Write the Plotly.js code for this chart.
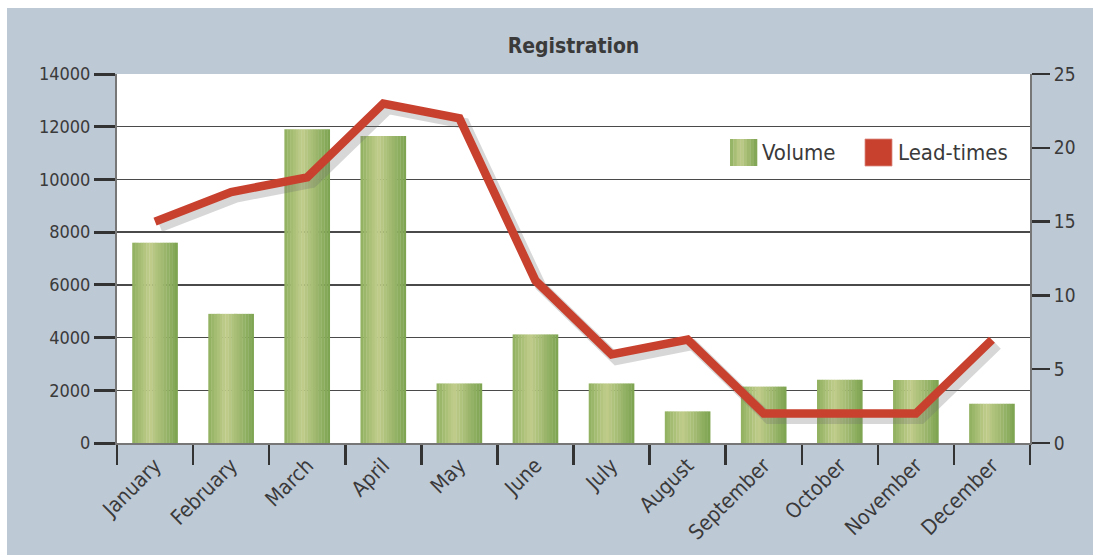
<!DOCTYPE html>
<html><head><meta charset="utf-8">
<script src="https://cdn.plot.ly/plotly-3.0.1.min.js"></script>
<style>html,body{margin:0;padding:0;background:#fff}#chart{width:1093px;height:555px}</style>
</head><body><div id="chart"></div>
<script>
// ---- data ----
const months = ['January','February','March','April','May','June','July','August','September','October','November','December'];
const volume = [7600, 4900, 11900, 11650, 2260, 4120, 2260, 1200, 2140, 2400, 2390, 1490];
const leadTimes = [15, 17, 18, 23, 22, 11, 6, 7, 2, 2, 2, 7];
const volumeTicks = [0, 2000, 4000, 6000, 8000, 10000, 12000, 14000];
const leadTicks = [0, 5, 10, 15, 20, 25];
const seriesNames = ['Volume', 'Lead-times'];

// ---- layout geometry (pixels) ----
const W = 1093, H = 555, L = 117, R = 1030, T = 74, B = 443;
const px = x => (x - L) / (R - L);
const py = y => (B - y) / (B - T);

const FONT = '"Liberation Sans Narrow", "Arial Narrow", "DejaVu Sans Condensed", sans-serif';
const TXT = '#3a3a3a';
const RED = '#c8412f';
const PANEL = '#bec9d6';

// horizontal gradient for bars (approximated with strips)
const stops = [[0, [143, 176, 94]], [0.38, [193, 205, 140]], [1, [124, 163, 80]]];
function gradColor(t) {
  for (let i = 0; i < stops.length - 1; i++) {
    const [a, ca] = stops[i], [b, cb] = stops[i + 1];
    if (t >= a && t <= b) {
      const u = (t - a) / (b - a);
      const c = ca.map((v, k) => Math.round(v + (cb[k] - v) * u));
      return `rgb(${c[0]},${c[1]},${c[2]})`;
    }
  }
  return 'rgb(124,163,80)';
}

const barW = 0.6, N = 16;
const traces = [];
for (let i = 0; i < N; i++) {
  traces.push({
    type: 'bar', x: months, y: volume, xaxis: 'x', yaxis: 'y',
    width: barW / N + (i < N - 1 ? 0.004 : 0), offset: -barW / 2 + (i / N) * barW,
    marker: { color: gradColor((i + 0.5) / N), line: { width: 0 } },
    name: seriesNames[0], hoverinfo: 'skip', showlegend: false
  });
}
// shadow of the line (same data, shifted axes)
traces.push({
  type: 'scatter', mode: 'lines', x: months, y: leadTimes, xaxis: 'x2', yaxis: 'y2',
  line: { color: 'rgba(110,110,110,0.28)', width: 11 }, hoverinfo: 'skip', showlegend: false
});
traces.push({
  type: 'scatter', mode: 'lines', x: months, y: leadTimes, xaxis: 'x3', yaxis: 'y3',
  line: { color: RED, width: 8.5 }, name: seriesNames[1], hoverinfo: 'skip', showlegend: false
});

const dx = 5 / ((R - L) / 12);
const dy = 5 / ((B - T) / 25);

// legend (drawn as shapes + text)
const shapes = [
  { type: 'rect', xref: 'paper', yref: 'paper', x0: px(7), x1: px(W + 2), y0: py(H + 2), y1: py(8), fillcolor: PANEL, line: { width: 0 }, layer: 'below' },
  { type: 'rect', xref: 'paper', yref: 'paper', x0: 0, x1: 1, y0: 0, y1: 1, fillcolor: '#ffffff', line: { width: 0 }, layer: 'below' }
];
const LS = 8;
for (let i = 0; i < LS; i++) {
  const x0 = 730 + i * 27 / LS, x1 = 730 + (i + 1) * 27 / LS + 0.3;
  shapes.push({ type: 'rect', xref: 'paper', yref: 'paper', x0: px(x0), x1: px(x1), y0: py(166), y1: py(139), fillcolor: gradColor((i + 0.5) / LS), line: { width: 0 } });
}
shapes.push({ type: 'rect', xref: 'paper', yref: 'paper', x0: px(865), x1: px(892), y0: py(166), y1: py(139), fillcolor: RED, line: { width: 0.8, color: '#d98a80' } });

const annotations = [
  { xref: 'paper', yref: 'paper', x: px(760), y: py(152.5), xanchor: 'left', yanchor: 'middle', text: seriesNames[0], showarrow: false, font: { family: FONT, size: 22, color: TXT } },
  { xref: 'paper', yref: 'paper', x: px(896), y: py(152.5), xanchor: 'left', yanchor: 'middle', text: seriesNames[1], showarrow: false, font: { family: FONT, size: 22, color: TXT } }
];

const layout = {
  width: W, height: H,
  margin: { l: L, r: W - R, t: T, b: H - B, pad: 0 },
  paper_bgcolor: '#ffffff', plot_bgcolor: 'rgba(0,0,0,0)',
  barmode: 'overlay', showlegend: false,
  title: { text: 'Registration', font: { family: FONT, size: 21, color: TXT, weight: 'bold' }, x: 0.5, xref: 'paper', xanchor: 'center', y: 1 - 46 / H, yref: 'container', yanchor: 'middle' },
  xaxis: {
    type: 'category', categoryorder: 'array', categoryarray: months, range: [-0.5, 11.5],
    showgrid: false, tickson: 'boundaries', ticks: 'outside', ticklen: 20, tickwidth: 2.5, tickcolor: '#333',
    showline: true, linecolor: '#777', linewidth: 2, tickangle: -45, zeroline: false,
    tickfont: { family: FONT, size: 21, color: TXT }, fixedrange: true
  },
  xaxis2: { type: 'category', categoryorder: 'array', categoryarray: months, overlaying: 'x', range: [-0.5 - dx, 11.5 - dx], visible: false, fixedrange: true },
  xaxis3: { type: 'category', categoryorder: 'array', categoryarray: months, overlaying: 'x', range: [-0.5, 11.5], visible: false, fixedrange: true },
  yaxis: {
    range: [0, 14000], tickvals: volumeTicks, ticktext: volumeTicks.map(String),
    ticks: 'outside', ticklen: 21, tickwidth: 3, tickcolor: '#333',
    showgrid: true, gridcolor: '#4a4a4a', gridwidth: 1.5,
    showline: true, linecolor: '#777', linewidth: 2, zeroline: false,
    tickfont: { family: FONT, size: 18, color: TXT }, fixedrange: true
  },
  yaxis2: { overlaying: 'y', range: [dy, 25 + dy], visible: false, fixedrange: true },
  yaxis3: {
    overlaying: 'y', side: 'right', range: [0, 25], tickvals: leadTicks, ticktext: leadTicks.map(String),
    ticks: 'outside', ticklen: 18, tickwidth: 2.5, tickcolor: '#333', showgrid: false,
    showline: true, linecolor: '#777', linewidth: 2, zeroline: false,
    tickfont: { family: FONT, size: 19, color: TXT }, fixedrange: true
  },
  shapes, annotations
};

Plotly.newPlot('chart', traces, layout, { displayModeBar: false, staticPlot: true });
</script>
</body></html>
